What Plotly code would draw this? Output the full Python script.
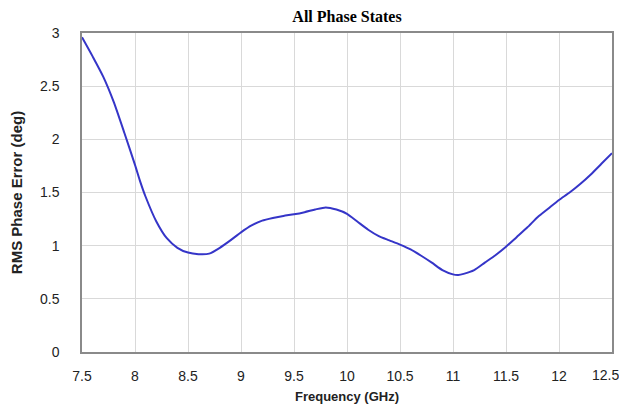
import plotly.graph_objects as go

freq = [7.50, 7.60, 7.70, 7.80, 7.90, 8.00, 8.05, 8.10, 8.20, 8.30, 8.40, 8.50,
        8.60, 8.70, 8.80, 8.90, 9.00, 9.10, 9.20, 9.30, 9.40, 9.50, 9.60, 9.70,
        9.80, 9.90, 10.00, 10.10, 10.20, 10.30, 10.40, 10.50, 10.60, 10.70, 10.80,
        10.90, 11.00, 11.05, 11.10, 11.20, 11.30, 11.40, 11.50, 11.60, 11.70,
        11.80, 11.90, 12.00, 12.10, 12.20, 12.30, 12.40, 12.50]
rms_err = [2.96, 2.78, 2.59, 2.35, 2.06, 1.76, 1.60, 1.46, 1.23, 1.07, 0.98, 0.935,
           0.92, 0.925, 0.98, 1.05, 1.125, 1.19, 1.235, 1.26, 1.28, 1.295, 1.315, 1.34,
           1.36, 1.34, 1.30, 1.225, 1.15, 1.09, 1.05, 1.01, 0.965, 0.905, 0.84,
           0.77, 0.73, 0.725, 0.735, 0.77, 0.84, 0.91, 0.99, 1.08, 1.17,
           1.27, 1.35, 1.43, 1.50, 1.58, 1.67, 1.77, 1.87]

x_ticks = [7.5, 8, 8.5, 9, 9.5, 10, 10.5, 11, 11.5, 12, 12.5]
y_ticks = [0, 0.5, 1, 1.5, 2, 2.5, 3]

# page body has an 8px margin; keep the figure inside the window so no scrollbar shows
W, H = 619, 398

fig = go.Figure()
fig.add_trace(go.Scatter(x=freq, y=rms_err, mode='lines', line=dict(color='#3535c8', width=2, shape='spline', smoothing=0.6)))

# last x label would get clipped at the window edge, so draw it right-aligned instead
x_text = [str(v) for v in x_ticks]
x_text[-1] = ''
fig.add_annotation(x=x_ticks[-1], y=0, xref='x', yref='paper', text=str(x_ticks[-1]),
                   showarrow=False, xanchor='right', yanchor='top', xshift=9, yshift=-13,
                   font=dict(size=14, family='Liberation Sans', color='#222222'))

fig.update_layout(
    width=W, height=H,
    margin=dict(l=74, r=15, t=25, b=54),
    paper_bgcolor='white', plot_bgcolor='white',
    showlegend=False,
    title=dict(text='<b>All Phase States</b>', x=339 / W, xanchor='center', y=1 - 8 / H, yanchor='middle',
               font=dict(family='Liberation Serif', size=16, color='black')),
    font=dict(family='Liberation Sans', color='#222222'),
)
fig.update_xaxes(range=[7.5, 12.5], tickvals=x_ticks, ticktext=x_text,
                 showgrid=True, gridcolor='#d9d9d9', gridwidth=1, automargin=False,
                 showline=True, linecolor='#8a8a8a', linewidth=1.5, mirror=True,
                 ticks='', ticklabelstandoff=10, tickfont=dict(size=14),
                 title=dict(text='<b>Frequency (GHz)</b>', font=dict(size=13), standoff=9),
                 zeroline=False)
fig.update_yaxes(range=[0, 3], tickvals=y_ticks, ticktext=[str(v) for v in y_ticks],
                 showgrid=True, gridcolor='#d9d9d9', gridwidth=1, automargin=False,
                 showline=True, linecolor='#8a8a8a', linewidth=1.5, mirror=True,
                 ticks='', ticklabelstandoff=18, tickfont=dict(size=14),
                 title=dict(text='<b>RMS Phase Error (deg)</b>', font=dict(size=15), standoff=20),
                 zeroline=False)

fig.write_html("out.html")
